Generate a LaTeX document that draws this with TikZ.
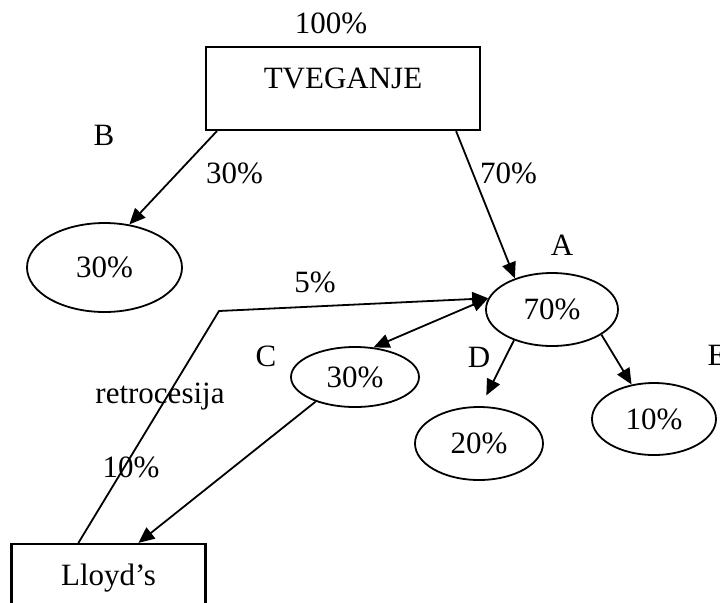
\documentclass[tikz,border=0pt]{standalone}
\usepackage{fontspec}
\setmainfont{Liberation Serif}
\usetikzlibrary{shapes.geometric,arrows.meta}
\begin{document}
\begin{tikzpicture}[x=0.5pt,y=-0.5pt,
  font=\fontsize{15.5}{18}\selectfont,
  box/.style={draw, line width=1.1pt, rectangle, inner sep=0pt, text height=10pt, text depth=10pt},
  oval/.style={draw, ellipse, line width=0.9pt, inner sep=0pt},
  lbl/.style={anchor=base, inner sep=0pt},
  conn/.style={line width=0.9pt},
  arr/.style={conn, -{Triangle[length=8pt,width=7pt]}},
  darr/.style={conn, {Triangle[length=8pt,width=7pt]}-{Triangle[length=8pt,width=7pt]}},
]
\useasboundingbox (0,0) rectangle (720,602);
\clip (0,0) rectangle (720,602);
% boxes
\node[box, minimum width=137pt, minimum height=41.5pt] (T) at (343,88.5) {TVEGANJE};
\node[box, minimum width=97pt, minimum height=41.5pt] (L) at (108.5,585.5) {Lloyd’s};
% ellipses
\node[oval, minimum width=77.5pt, minimum height=44.5pt] (B) at (104.5,267.5) {30\%};
\node[oval, minimum width=66pt, minimum height=36.5pt] (A) at (552,309.5) {70\%};
\node[oval, minimum width=64pt, minimum height=30pt] (C) at (355,377) {30\%};
\node[oval, minimum width=64pt, minimum height=36.5pt] (D) at (479,443.5) {20\%};
\node[oval, minimum width=62pt, minimum height=36pt] (E) at (654,419) {10\%};
% labels
\node[lbl] (p100) at (331,33) {100\%};
\node[lbl] (lB) at (104,145) {B};
\node[lbl] (l30) at (234.5,183) {30\%};
\node[lbl] (l70) at (508.5,183) {70\%};
\node[lbl] (lA) at (562,255) {A};
\node[lbl] (l5) at (315,292) {5\%};
\node[lbl] (lC) at (266,366) {C};
\node[lbl] (lD) at (479,367) {D};
\node[lbl] (lE) at (717,365) {E};
\node[lbl] (lret) at (160,403) {retrocesija};
\node[lbl] (l10) at (131,477) {10\%};
% connectors
\coordinate (K) at (219,311);
\draw[arr] ([xshift=6pt]T.south west) -- (B.60);
\draw[arr] ([xshift=-12.5pt]T.south east) -- (A.140);
\draw[arr] ([xshift=34pt]L.north west) -- (K) -- (A.170);
\draw[darr] (C.58) -- (A.170);
\draw[arr, shorten >=6pt] (A.219) -- (D.87);
\draw[arr] (A.333) -- (E.123);
\draw[arr] (C.212) -- ([xshift=64pt]L.north west);
\end{tikzpicture}
\end{document}
